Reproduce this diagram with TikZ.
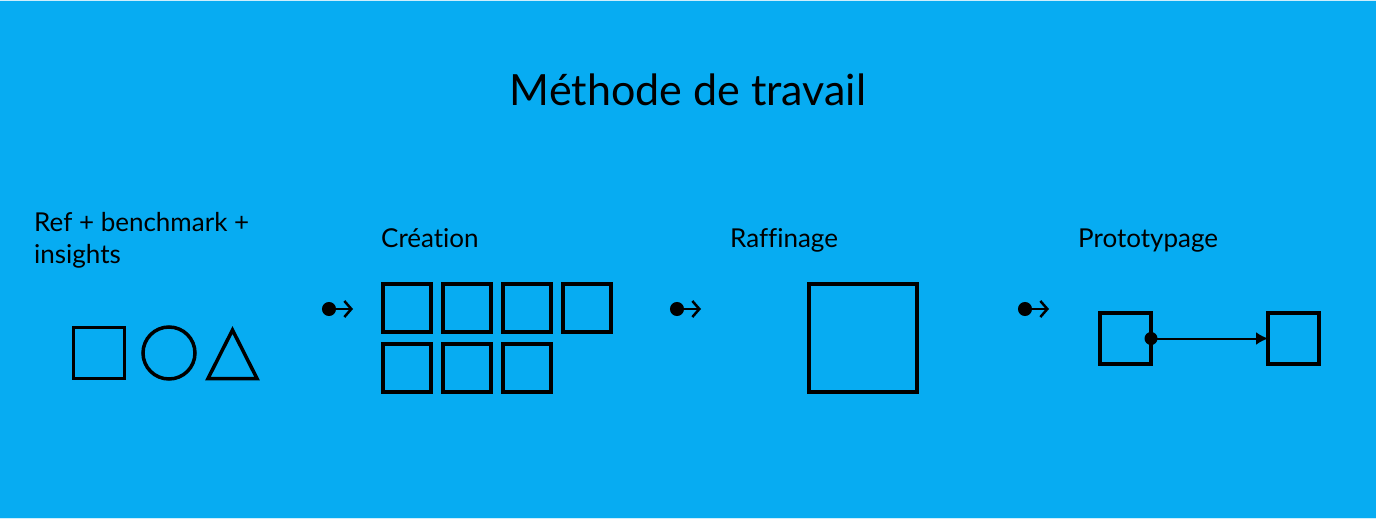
\documentclass[tikz,border=0pt]{standalone}
\usepackage{fontspec}
\setmainfont{Lato}[Ligatures={NoCommon}]
\usetikzlibrary{arrows.meta}
\definecolor{fond}{RGB}{7,172,242}
\definecolor{filet}{RGB}{205,238,252}
\tikzset{
  titre/.style={font=\fontsize{43}{50}\selectfont, anchor=base, inner sep=0},
  etiquette/.style={font=\fontsize{26}{32}\selectfont, anchor=base west, inner sep=0, align=left},
  forme/.style={draw=black, line width=3.5pt, inner sep=0, outer sep=0},
  carre/.style={forme, rectangle, minimum size=#1},
  lien/.style={line width=2.5pt, {Circle[length=14pt]}-{Straight Barb[length=7pt,width=16pt,line width=2.5pt]}}
}
\begin{document}
\begin{tikzpicture}[x=1pt, y=-1pt]
			%%%%% FOND %%%%%
			\useasboundingbox (0, 0) rectangle (1376, 519);
			\fill[filet] (0, 0) rectangle (1376, 519);
			\fill[fond] (0, 1) rectangle (1376, 517.5);
			
			\node[titre] (titre) at (688, 105) {Méthode de travail};
			
			%%%%% REF + BENCHMARK %%%%%
			\node[etiquette] (refLabel) at (34, 263) {Ref + benchmark +\\insights};
			\node[carre=51pt] (refCarre) at (99, 353) {};
			\node[forme, circle, minimum size=52pt] (refRond) at (169, 353) {};
			\draw[forme, line join=miter] (232.5, 330) -- (257, 378.5) -- (208, 378.5) -- cycle;
			
			\coordinate (fa1) at (322, 309);
			\coordinate (fb1) at (353, 309);
			\draw[lien] (fa1) -- (fb1);
			
			%%%%% CREATION %%%%%
			\node[etiquette] (creaLabel) at (381, 247) {Création};
			\node[carre=48pt, line width=4pt] (crea1) at (407, 308) {};
			\node[carre=48pt, line width=4pt] (crea2) at (467, 308) {};
			\node[carre=48pt, line width=4pt] (crea3) at (527, 308) {};
			\node[carre=48pt, line width=4pt] (crea4) at (587, 308) {};
			\node[carre=48pt, line width=4pt] (crea5) at (407, 368) {};
			\node[carre=48pt, line width=4pt] (crea6) at (467, 368) {};
			\node[carre=48pt, line width=4pt] (crea7) at (527, 368) {};
			
			\coordinate (fa2) at (670, 309);
			\coordinate (fb2) at (701, 309);
			\draw[lien] (fa2) -- (fb2);
			
			%%%%% RAFFINAGE %%%%%
			\node[etiquette] (raffLabel) at (730, 247) {Raffinage};
			\node[carre=108pt, line width=4pt] (raffCarre) at (862.5, 338) {};
			
			\coordinate (fa3) at (1018, 309);
			\coordinate (fb3) at (1049, 309);
			\draw[lien] (fa3) -- (fb3);
			
			%%%%% PROTOTYPAGE %%%%%
			\node[etiquette] (protoLabel) at (1078, 247) {Prototypage};
			\node[carre=51pt] (protoA) at (1125.5, 338.5) {};
			\node[carre=51pt] (protoB) at (1293.5, 338.5) {};
			\fill (protoA.east) circle (6.5pt);
			\draw[line width=2pt, -{Latex[length=12pt,width=13pt]}] (protoA.east) -- (protoB.west);
			
			%%%%% FIN %%%%%
\end{tikzpicture}
\end{document}
